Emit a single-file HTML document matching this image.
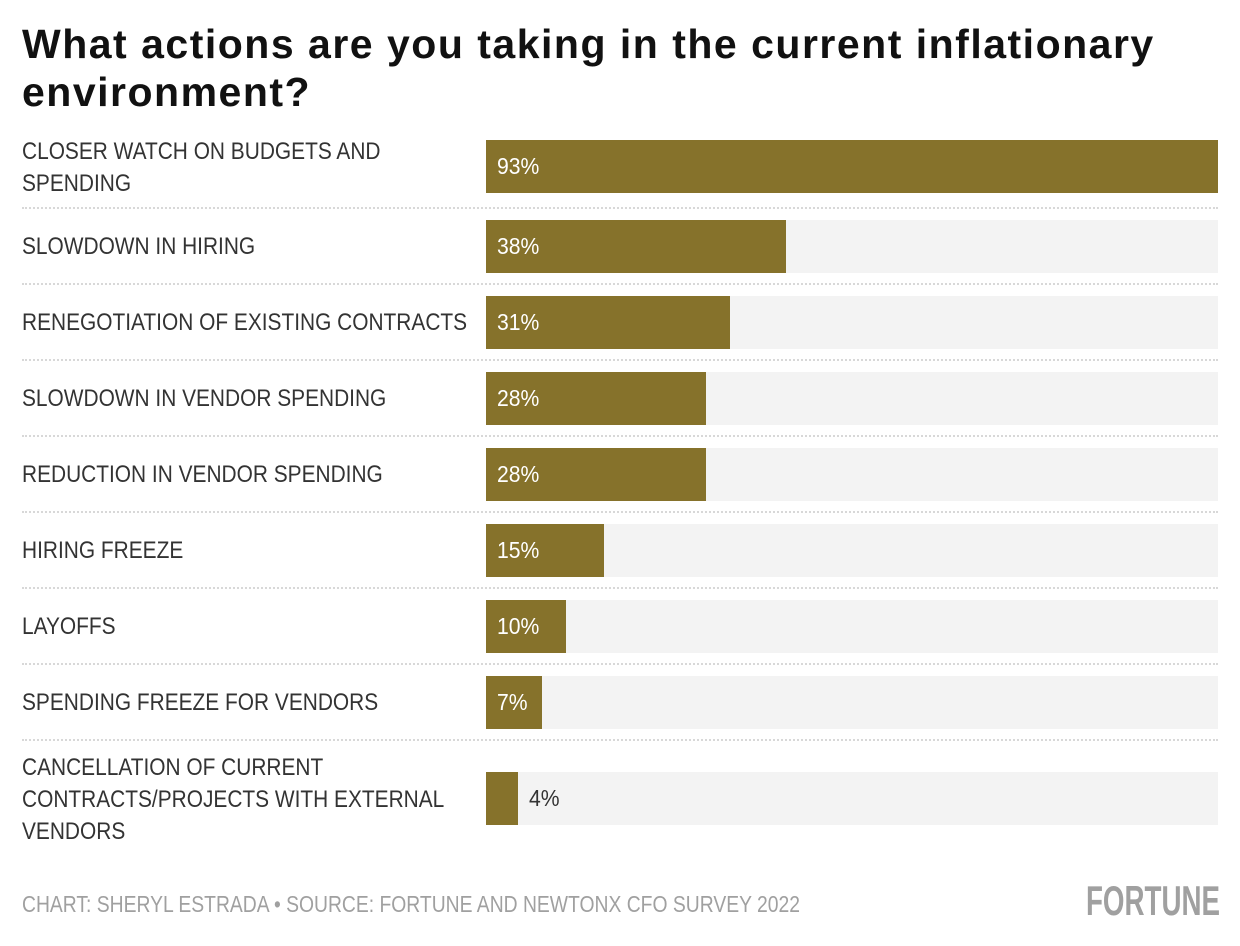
<!DOCTYPE html>
<html><head><meta charset="utf-8"><style>
body{margin:0;width:1240px;height:946px;background:#fff;position:relative;overflow:hidden;font-family:"Liberation Sans",sans-serif;}
.t{position:absolute;left:22px;top:20px;font-family:"Liberation Sans",sans-serif;font-weight:bold;font-size:41px;line-height:48px;color:#111;letter-spacing:1.5px;white-space:nowrap;}
.lab{position:absolute;left:22px;font-size:24px;line-height:32px;color:#333;white-space:nowrap;transform:scaleX(0.87);transform-origin:0 0;}
.bg{position:absolute;left:486px;width:732px;height:53px;background:#f3f3f3;}
.bar{position:absolute;left:486px;height:53px;background:#86722b;}
.v{position:absolute;left:497px;font-size:23px;line-height:53px;color:#fff;transform:scaleX(0.92);transform-origin:0 0;}
.sep{position:absolute;left:22px;width:1196px;border-top:2px dotted #d8d8d8;}
.foot{position:absolute;left:22px;top:891px;font-size:23px;color:#a0a0a0;white-space:nowrap;transform:scaleX(0.84);transform-origin:0 0;}
.logo{position:absolute;left:1086px;top:877px;font-size:42px;font-weight:bold;color:#a0a0a0;transform:scaleX(0.66);transform-origin:0 0;white-space:nowrap;}
</style></head><body>
<div class="t">What actions are you taking in the current inflationary<br>environment?</div>

<div class="lab" style="top:136px">CLOSER WATCH ON BUDGETS AND<br>SPENDING</div>
<div class="bg" style="top:140px"></div><div class="bar" style="top:140px;width:732px"></div><div class="v" style="top:140px">93%</div>
<div class="sep" style="top:207px"></div>

<div class="lab" style="top:231px">SLOWDOWN IN HIRING</div>
<div class="bg" style="top:220px"></div><div class="bar" style="top:220px;width:300px"></div><div class="v" style="top:220px">38%</div>
<div class="sep" style="top:283px"></div>

<div class="lab" style="top:307px">RENEGOTIATION OF EXISTING CONTRACTS</div>
<div class="bg" style="top:296px"></div><div class="bar" style="top:296px;width:244px"></div><div class="v" style="top:296px">31%</div>
<div class="sep" style="top:359px"></div>

<div class="lab" style="top:383px">SLOWDOWN IN VENDOR SPENDING</div>
<div class="bg" style="top:372px"></div><div class="bar" style="top:372px;width:220px"></div><div class="v" style="top:372px">28%</div>
<div class="sep" style="top:435px"></div>

<div class="lab" style="top:459px">REDUCTION IN VENDOR SPENDING</div>
<div class="bg" style="top:448px"></div><div class="bar" style="top:448px;width:220px"></div><div class="v" style="top:448px">28%</div>
<div class="sep" style="top:511px"></div>

<div class="lab" style="top:535px">HIRING FREEZE</div>
<div class="bg" style="top:524px"></div><div class="bar" style="top:524px;width:118px"></div><div class="v" style="top:524px">15%</div>
<div class="sep" style="top:587px"></div>

<div class="lab" style="top:611px">LAYOFFS</div>
<div class="bg" style="top:600px"></div><div class="bar" style="top:600px;width:80px"></div><div class="v" style="top:600px">10%</div>
<div class="sep" style="top:663px"></div>

<div class="lab" style="top:687px">SPENDING FREEZE FOR VENDORS</div>
<div class="bg" style="top:676px"></div><div class="bar" style="top:676px;width:56px"></div><div class="v" style="top:676px">7%</div>
<div class="sep" style="top:739px"></div>

<div class="lab" style="top:752px">CANCELLATION OF CURRENT<br>CONTRACTS/PROJECTS WITH EXTERNAL<br>VENDORS</div>
<div class="bg" style="top:772px"></div><div class="bar" style="top:772px;width:32px"></div><div class="v" style="top:772px;left:529px;color:#333">4%</div>

<div class="foot">CHART: SHERYL ESTRADA • SOURCE: FORTUNE AND NEWTONX CFO SURVEY 2022</div>
<div class="logo">FORTUNE</div>
</body></html>
